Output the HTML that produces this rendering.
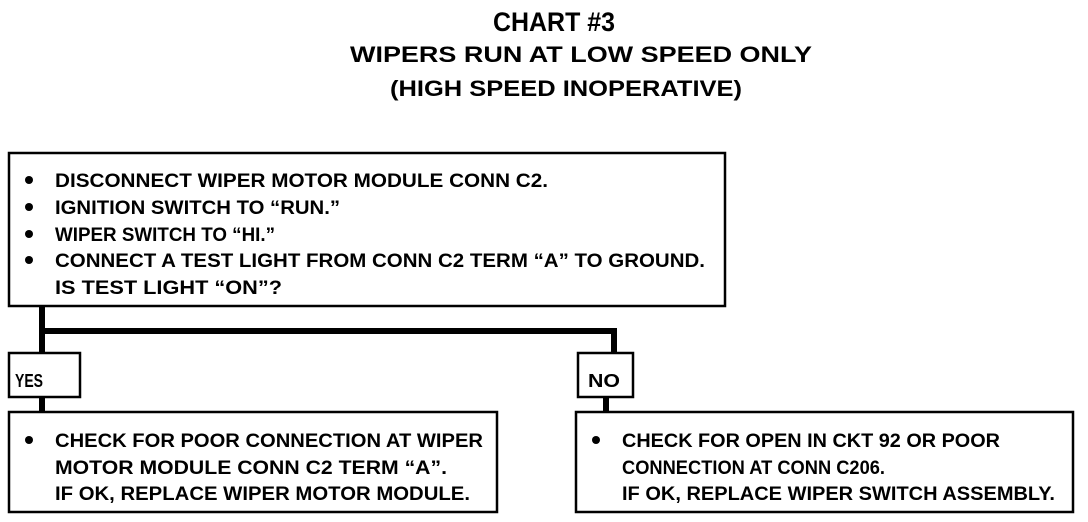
<!DOCTYPE html>
<html><head><style>body{margin:0;background:#fff}svg{display:block}</style></head><body>
<svg width="1088" height="522" xmlns="http://www.w3.org/2000/svg" font-family="Liberation Sans, sans-serif" font-weight="bold" fill="#000">
<g lengthAdjust="spacingAndGlyphs">
<text x="493" y="31" font-size="27" textLength="122" lengthAdjust="spacingAndGlyphs">CHART #3</text>
<text x="350" y="62" font-size="22" textLength="462" lengthAdjust="spacingAndGlyphs">WIPERS RUN AT LOW SPEED ONLY</text>
<text x="390" y="96" font-size="22" textLength="352" lengthAdjust="spacingAndGlyphs">(HIGH SPEED INOPERATIVE)</text>
</g>
<g fill="none" stroke="#000">
<rect x="9" y="153" width="716" height="153" stroke-width="2.5"/>
<rect x="9" y="353" width="71" height="44" stroke-width="2.5"/>
<rect x="578" y="353" width="55" height="44" stroke-width="2.5"/>
<rect x="9" y="412" width="488" height="100" stroke-width="2.5"/>
<rect x="576" y="412" width="497" height="100" stroke-width="2.5"/>
<path d="M42 306 V353 M42 397 V412 M40 331 H617 M614 329 V353 M606 397 V412" stroke-width="6"/>
</g>
<g font-size="19">
<circle cx="29" cy="180" r="4"/><circle cx="29" cy="207" r="4"/><circle cx="29" cy="234" r="4"/><circle cx="29" cy="260" r="4"/>
<text x="55" y="187" textLength="493" lengthAdjust="spacingAndGlyphs">DISCONNECT WIPER MOTOR MODULE CONN C2.</text>
<text x="55" y="214" textLength="285" lengthAdjust="spacingAndGlyphs">IGNITION SWITCH TO “RUN.”</text>
<text x="55" y="241" textLength="220" lengthAdjust="spacingAndGlyphs">WIPER SWITCH TO “HI.”</text>
<text x="55" y="267" textLength="650" lengthAdjust="spacingAndGlyphs">CONNECT A TEST LIGHT FROM CONN C2 TERM “A” TO GROUND.</text>
<text x="55" y="294" textLength="227" lengthAdjust="spacingAndGlyphs">IS TEST LIGHT “ON”?</text>
<text x="15" y="387" textLength="28" lengthAdjust="spacingAndGlyphs" font-size="18">YES</text>
<text x="588" y="387" textLength="32" lengthAdjust="spacingAndGlyphs" font-size="18">NO</text>
<circle cx="29" cy="440" r="4"/>
<text x="55" y="447" textLength="428" lengthAdjust="spacingAndGlyphs">CHECK FOR POOR CONNECTION AT WIPER</text>
<text x="55" y="474" textLength="392" lengthAdjust="spacingAndGlyphs">MOTOR MODULE CONN C2 TERM “A”.</text>
<text x="55" y="500" textLength="415" lengthAdjust="spacingAndGlyphs">IF OK, REPLACE WIPER MOTOR MODULE.</text>
<circle cx="596" cy="440" r="4"/>
<text x="622" y="447" textLength="378" lengthAdjust="spacingAndGlyphs">CHECK FOR OPEN IN CKT 92 OR POOR</text>
<text x="622" y="474" textLength="263" lengthAdjust="spacingAndGlyphs">CONNECTION AT CONN C206.</text>
<text x="622" y="500" textLength="433" lengthAdjust="spacingAndGlyphs">IF OK, REPLACE WIPER SWITCH ASSEMBLY.</text>
</g>
</svg>
</body></html>
